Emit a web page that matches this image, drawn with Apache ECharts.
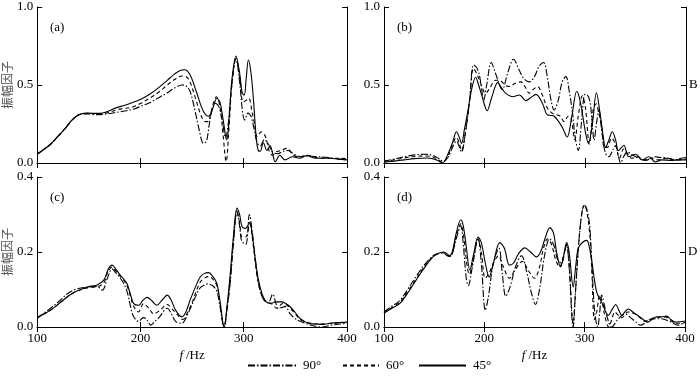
<!DOCTYPE html>
<html>
<head>
<meta charset="utf-8">
<script src="https://cdn.jsdelivr.net/npm/echarts@6/dist/echarts.min.js"></script>
<style>
html, body { margin: 0; padding: 0; background: #fff; }
#main { width: 700px; height: 385px; }
</style>
</head>
<body>
<div id="main"></div>
<script>
// f (Hz), amplitude factor -- panel (a)
var a90 = [[100,0.056],[106,0.085],[113,0.12],[120,0.17],[127,0.22],[133,0.27],[139,0.305],[145,0.315],[150,0.315],[156,0.31],[161,0.31],[168,0.315],[177,0.325],[185,0.333],[193,0.345],[201,0.365],[210,0.39],[218,0.42],[226,0.45],[233,0.48],[240,0.50],[244,0.495],[248,0.46],[253,0.33],[257,0.21],[261,0.126],[264,0.14],[268,0.30],[272.5,0.383],[276,0.36],[279,0.28],[282.5,0.16],[285,0.25],[288.5,0.50],[292.5,0.67],[296,0.52],[299,0.32],[301,0.275],[304,0.32],[307,0.30],[310,0.22],[313,0.13],[316,0.11],[320,0.15],[324,0.12],[328,0.07],[333,0.06],[338,0.075],[343,0.08],[348,0.06],[355,0.04],[362,0.045],[372,0.04],[382,0.035],[392,0.025],[400,0.02]];
var a60 = [[100,0.056],[106,0.085],[113,0.12],[120,0.17],[127,0.22],[133,0.27],[139,0.305],[145,0.316],[150,0.318],[156,0.316],[161,0.316],[168,0.322],[177,0.34],[185,0.35],[193,0.36],[201,0.385],[210,0.42],[218,0.455],[226,0.50],[233,0.535],[240,0.558],[244,0.555],[248,0.52],[254,0.40],[259,0.30],[263,0.265],[266,0.27],[270,0.37],[273.5,0.425],[277,0.36],[280,0.18],[283,0.01],[285.5,0.20],[288.5,0.50],[292.5,0.67],[296,0.55],[299.5,0.39],[302,0.40],[305,0.415],[308,0.33],[310.5,0.25],[313,0.17],[317,0.20],[321,0.17],[325,0.07],[328,0.05],[331,0.07],[336,0.08],[342,0.094],[348,0.05],[354,0.04],[361,0.05],[370,0.035],[382,0.03],[392,0.03],[400,0.028]];
var a45 = [[100,0.056],[106,0.085],[113,0.12],[120,0.17],[127,0.22],[133,0.27],[139,0.305],[145,0.318],[150,0.32],[156,0.318],[161,0.318],[168,0.33],[177,0.355],[185,0.37],[193,0.39],[201,0.41],[210,0.445],[218,0.485],[226,0.53],[233,0.57],[239,0.595],[243,0.598],[248,0.565],[254,0.46],[259,0.36],[263,0.31],[266,0.30],[270,0.35],[274,0.415],[277,0.39],[280,0.28],[283.6,0.147],[286,0.30],[288.5,0.53],[292.5,0.686],[296,0.58],[298.5,0.45],[300.5,0.435],[302.5,0.55],[304.5,0.66],[307,0.58],[309.5,0.40],[312,0.17],[314,0.08],[316,0.075],[319,0.13],[322.5,0.08],[325.5,0.11],[328,0.06],[330.5,0.008],[335,0.05],[340,0.02],[347,0.04],[354,0.03],[361,0.047],[370,0.03],[383,0.03],[392,0.025],[400,0.02]];

// panel (b)
var b90 = [[100,0.012],[110,0.025],[120,0.04],[130,0.052],[140,0.056],[148,0.05],[154,0.03],[159,0.01],[164,0.04],[168,0.10],[172,0.14],[175,0.10],[177,0.07],[181,0.2],[185,0.40],[189,0.628],[193,0.60],[196,0.52],[199,0.40],[202,0.50],[206.5,0.644],[211,0.57],[217.4,0.47],[223,0.58],[228.6,0.665],[234,0.60],[239,0.54],[244.4,0.52],[250,0.56],[254,0.62],[258.6,0.644],[262,0.56],[266,0.40],[269,0.34],[273,0.40],[277,0.52],[280.7,0.554],[284,0.46],[287.3,0.32],[290,0.16],[293,0.08],[296,0.25],[298.8,0.435],[301,0.44],[304.4,0.40],[306.5,0.28],[308.7,0.146],[311,0.25],[313.6,0.34],[316,0.22],[318.6,0.10],[321,0.05],[323.5,0.04],[327,0.08],[330,0.11],[333,0.04],[335,0.0],[338,0.04],[341.7,0.07],[346,0.055],[350,0.04],[355,0.025],[360,0.017],[365,0.03],[369.7,0.04],[374,0.035],[378,0.035],[384,0.028],[389.5,0.02],[395,0.03],[400,0.035]];
var b60 = [[100,0.008],[110,0.02],[120,0.032],[130,0.042],[140,0.045],[148,0.04],[154,0.02],[158,0.005],[163,0.04],[168,0.12],[172,0.165],[175,0.12],[177,0.08],[181,0.2],[185,0.4],[189,0.607],[193,0.56],[196.6,0.50],[201,0.446],[205,0.48],[211,0.53],[215,0.53],[220,0.50],[224.6,0.49],[230,0.51],[236,0.52],[240,0.49],[244.4,0.447],[248,0.47],[252.6,0.49],[257,0.44],[262.5,0.35],[267,0.32],[271,0.31],[275,0.30],[279,0.265],[283,0.30],[286,0.28],[289.5,0.15],[293,0.30],[297,0.43],[300,0.36],[304,0.12],[308,0.35],[311,0.38],[313,0.33],[316,0.25],[319,0.10],[322,0.10],[326,0.16],[330,0.12],[334,0.03],[338,0.09],[342,0.06],[346,0.03],[352,0.04],[358,0.02],[365,0.03],[372,0.02],[380,0.03],[390,0.02],[400,0.025]];
var b45 = [[100,0.005],[110,0.012],[120,0.02],[130,0.028],[142,0.032],[150,0.025],[155,0.01],[158,0.0],[163,0.05],[168,0.13],[172,0.20],[175,0.16],[177,0.125],[180,0.22],[183.5,0.34],[187,0.47],[191,0.55],[194,0.50],[197.5,0.425],[202.5,0.335],[207,0.42],[213,0.515],[217,0.48],[221,0.446],[228,0.425],[234.5,0.436],[241,0.40],[246,0.42],[251,0.44],[257.5,0.38],[262.5,0.307],[266,0.305],[269,0.30],[273,0.27],[277,0.23],[282,0.167],[286.5,0.296],[291.5,0.46],[294,0.42],[297,0.32],[300,0.20],[303,0.125],[307,0.25],[311,0.45],[315,0.30],[318,0.16],[320,0.10],[323,0.14],[326.8,0.20],[330,0.15],[332.8,0.08],[336,0.10],[338.4,0.114],[343,0.04],[350,0.056],[356.5,0.02],[363,0.04],[369.7,0.006],[376,0.02],[386,0.017],[392,0.02],[400,0.02]];

// panel (c)
var c90 = [[100,0.024],[106,0.036],[113,0.05],[121,0.068],[129,0.088],[137,0.1],[145,0.105],[152,0.107],[158,0.108],[163,0.098],[168,0.13],[172.6,0.155],[176,0.145],[180.6,0.13],[184,0.115],[187,0.095],[190,0.06],[193,0.03],[198,0.015],[203,0.025],[206,0.02],[210,0.005],[214,0.015],[218,0.025],[226,0.05],[230,0.035],[234,0.015],[240,0.01],[245,0.03],[250,0.06],[254,0.085],[258,0.105],[262,0.112],[265,0.115],[270,0.11],[274,0.095],[277,0.055],[281,0.0],[284,0.05],[287,0.12],[290,0.22],[293.5,0.31],[296,0.27],[298,0.23],[302,0.22],[305.5,0.30],[308,0.26],[311.3,0.18],[314,0.12],[318,0.08],[322,0.066],[324,0.065],[328,0.0875],[331,0.065],[333,0.05],[337,0.052],[340,0.055],[345,0.035],[350,0.022],[355,0.015],[365,0.005],[375,0.0],[385,0.005],[393,0.008],[400,0.01]];
var c60 = [[100,0.024],[106,0.034],[113,0.045],[121,0.062],[129,0.08],[137,0.094],[145,0.102],[152,0.106],[158,0.107],[164.5,0.118],[169,0.15],[172.6,0.16],[176,0.15],[180.6,0.135],[184,0.124],[187,0.11],[190,0.085],[193.5,0.055],[198,0.04],[203,0.062],[208,0.05],[213,0.035],[219,0.045],[226,0.06],[230,0.05],[235,0.035],[241,0.02],[245,0.035],[250,0.065],[254,0.095],[258,0.12],[262,0.13],[266,0.135],[270,0.128],[274,0.11],[277,0.065],[281,0.0],[284,0.055],[287,0.13],[290,0.23],[293.5,0.305],[296,0.28],[298.4,0.24],[302,0.24],[306,0.275],[308,0.245],[311.3,0.17],[314,0.12],[318,0.08],[321,0.068],[324,0.065],[328,0.06],[332,0.05],[338,0.063],[342,0.058],[345,0.05],[350,0.035],[355,0.02],[365,0.01],[375,0.008],[385,0.01],[400,0.012]];
var c45 = [[100,0.024],[106,0.034],[113,0.045],[121,0.062],[129,0.08],[137,0.094],[145,0.103],[152,0.109],[158,0.112],[164.5,0.125],[169,0.155],[172.6,0.165],[176,0.155],[180.6,0.138],[184,0.127],[187,0.116],[190,0.09],[193.5,0.0625],[198.4,0.058],[202,0.07],[206.5,0.079],[211,0.07],[216,0.058],[221,0.072],[226,0.085],[230,0.07],[234,0.045],[240,0.027],[244,0.04],[248,0.071],[253,0.105],[258,0.134],[262,0.143],[266,0.145],[270,0.135],[274,0.116],[277,0.07],[281,0.0],[284,0.06],[287,0.143],[290,0.24],[293.5,0.317],[296,0.30],[298.4,0.268],[301.6,0.263],[305.8,0.279],[308,0.25],[311.3,0.179],[314,0.13],[317.7,0.089],[321,0.07],[324,0.064],[327,0.063],[330.6,0.067],[337,0.067],[341,0.062],[345,0.054],[350,0.038],[354.8,0.022],[360,0.013],[364.5,0.009],[370,0.008],[377.4,0.007],[387,0.011],[393,0.012],[400,0.013]];

// panel (d)
var d90 = [[100,0.04],[108,0.056],[115.6,0.07],[124,0.102],[132,0.135],[140,0.165],[149,0.19],[154,0.196],[159,0.198],[163,0.19],[165.5,0.188],[168,0.195],[172,0.235],[176.5,0.27],[179,0.22],[182,0.13],[184,0.11],[188,0.16],[193.8,0.235],[197,0.17],[201,0.045],[204,0.08],[209,0.17],[214.5,0.21],[218,0.14],[221.4,0.082],[226,0.11],[231,0.16],[237,0.19],[242,0.15],[247,0.09],[251,0.06],[255,0.1],[260,0.19],[265,0.235],[269,0.22],[273,0.18],[277,0.17],[280,0.2],[282,0.22],[284.5,0.16],[288.5,0.0],[291,0.1],[294,0.22],[297,0.3],[299.6,0.325],[302,0.315],[305,0.27],[307.5,0.15],[310,0.04],[313,0.0],[315,0.04],[317,0.085],[319.5,0.06],[322,0.03],[327,0.0],[333,0.02],[340,0.035],[348,0.02],[356,0.005],[365,0.02],[375,0.022],[385,0.015],[393,0.005],[400,0.012]];
var d60 = [[100,0.0375],[108,0.052],[115.6,0.066],[124,0.096],[132,0.128],[140,0.16],[149,0.188],[154,0.195],[159,0.198],[163,0.192],[165.5,0.188],[168,0.195],[172,0.24],[176.5,0.275],[179,0.25],[182,0.18],[185,0.14],[189,0.18],[193.8,0.235],[197,0.2],[201,0.13],[205,0.145],[209,0.17],[214,0.19],[219,0.16],[225,0.13],[230,0.15],[238,0.175],[244,0.15],[250,0.13],[255,0.16],[259,0.21],[263,0.235],[267,0.22],[271,0.18],[275,0.16],[279,0.19],[282,0.22],[284.5,0.17],[288.5,0.01],[291,0.1],[294,0.22],[297,0.3],[299.6,0.325],[302,0.31],[305,0.25],[307,0.16],[309.7,0.02],[312,0.04],[315,0.085],[318,0.06],[320,0.03],[324,0.0],[327,0.02],[330,0.04],[334,0.03],[337,0.025],[343,0.04],[350,0.035],[355,0.025],[360,0.015],[365,0.02],[370,0.025],[380,0.027],[385,0.02],[390,0.01],[395,0.01],[400,0.012]];
var d45 = [[100,0.0375],[108,0.05],[115.6,0.0625],[124,0.092],[132,0.125],[140,0.157],[149,0.1875],[154,0.196],[159,0.20],[163,0.195],[165.5,0.19],[168,0.2],[172,0.25],[176.5,0.286],[179,0.27],[182,0.214],[185.5,0.152],[189,0.19],[193.8,0.24],[197,0.225],[201,0.17],[204.8,0.133],[209,0.17],[215.4,0.225],[220,0.21],[225,0.165],[229,0.17],[234,0.195],[240.4,0.211],[246,0.2],[252,0.187],[256,0.2],[261,0.24],[265.3,0.265],[269,0.25],[272,0.2],[276,0.16],[279,0.19],[282,0.225],[284.5,0.2],[288.6,0.107],[291,0.16],[293.6,0.21],[298,0.226],[302,0.231],[304.5,0.215],[307,0.178],[309.5,0.13],[312,0.093],[315,0.075],[318.5,0.058],[321,0.04],[323.5,0.031],[327,0.045],[331,0.06],[334,0.045],[337,0.031],[340,0.04],[343.5,0.048],[348,0.04],[355,0.027],[363,0.013],[367,0.02],[371.7,0.027],[376,0.027],[381.7,0.029],[386,0.02],[390,0.013],[395,0.014],[400,0.016]];

var seriesNames = ['90°', '60°', '45°'];
var dashTypes = [[7, 2, 1.5, 2], [4, 3], 'solid'];

var FONT = '"Liberation Serif", "Times New Roman", serif';

var panels = [
	{grid: {left: 37, top: 7, width: 310, height: 156}, yMax: 1, yStep: 0.5, xLabels: false, yName: '振幅因子', rName: '', tag: '(a)', data: [a90, a60, a45]},
	{grid: {left: 384, top: 7, width: 302, height: 156}, yMax: 1, yStep: 0.5, xLabels: false, yName: '', rName: 'B', tag: '(b)', data: [b90, b60, b45]},
	{grid: {left: 37, top: 177, width: 310, height: 150}, yMax: 0.4, yStep: 0.2, xLabels: true, yName: '振幅因子', rName: '', tag: '(c)', data: [c90, c60, c45]},
	{grid: {left: 384, top: 177, width: 301, height: 150}, yMax: 0.4, yStep: 0.2, xLabels: true, yName: '', rName: 'D', tag: '(d)', data: [d90, d60, d45]}
];

var chart = echarts.init(document.getElementById('main'), null, {renderer: 'canvas'});

var grids = [], xAxes = [], yAxes = [], series = [], titles = [];
var lineAx = {lineStyle: {color: '#000', width: 1}};
var tickIn = {show: true, inside: true, length: 5, lineStyle: {color: '#000', width: 1}};

panels.forEach(function(p, i) {
	grids.push({left: p.grid.left, top: p.grid.top, width: p.grid.width, height: p.grid.height, containLabel: false});

	// bottom + top x axes
	xAxes.push({
		type: 'value', gridIndex: i, position: 'bottom', min: 100, max: 400, interval: 100,
		axisLine: lineAx, axisTick: tickIn, splitLine: {show: false},
		axisLabel: {show: p.xLabels, color: '#000', fontFamily: FONT, fontSize: 13, margin: 5},
		name: p.xLabels ? '{i|f}/Hz' : '', nameLocation: 'middle', nameGap: 22,
		nameTextStyle: {color: '#000', fontFamily: FONT, fontSize: 13, rich: {i: {fontStyle: 'italic', fontFamily: FONT, fontSize: 13, padding: [0, 3, 0, 0]}}}
	});
	xAxes.push({
		type: 'value', gridIndex: i, position: 'top', min: 100, max: 400, interval: 100,
		axisLine: lineAx, axisTick: tickIn, splitLine: {show: false}, axisLabel: {show: false}
	});

	// left + right y axes
	yAxes.push({
		type: 'value', gridIndex: i, position: 'left', min: 0, max: p.yMax, interval: p.yStep,
		axisLine: lineAx, axisTick: tickIn, splitLine: {show: false},
		axisLabel: {color: '#000', fontFamily: FONT, fontSize: 13, margin: 4, formatter: function(v) { return v.toFixed(1); }},
		name: p.yName, nameLocation: 'middle', nameGap: 20,
		nameTextStyle: {color: '#555', fontFamily: 'Noto Sans CJK SC', fontSize: 12}
	});
	yAxes.push({
		type: 'value', gridIndex: i, position: 'right', min: 0, max: p.yMax, interval: p.yStep,
		axisLine: lineAx, axisTick: tickIn, splitLine: {show: false}, axisLabel: {show: false},
		name: p.rName, nameLocation: 'middle', nameRotate: 0, nameGap: 3,
		nameTextStyle: {color: '#000', fontFamily: FONT, fontSize: 13, align: 'left'}
	});

	p.data.forEach(function(d, k) {
		series.push({
			name: seriesNames[k], type: 'line', xAxisIndex: i * 2, yAxisIndex: i * 2,
			data: d, smooth: 0.35, symbol: 'none', animation: false,
			itemStyle: {color: '#000'},
			lineStyle: {color: '#000', width: 1.1, type: dashTypes[k]}
		});
	});

	titles.push({
		text: p.tag, left: p.grid.left + 8, top: p.grid.top + 9,
		textStyle: {color: '#000', fontFamily: FONT, fontSize: 13, fontWeight: 'normal'}
	});
});

// one legend per entry so each key sits where it does in the figure
var legendLeft = [242, 337, 413];
var legendWidth = [48, 36, 47];
var legends = seriesNames.map(function(n, k) {
	return {
		data: [n], left: legendLeft[k], top: 354, itemWidth: legendWidth[k], itemHeight: 10,
		itemStyle: {opacity: 0}, selectedMode: false,
		textStyle: {color: '#000', fontFamily: FONT, fontSize: 13, padding: [0, 0, 0, 2]}
	};
});

var option = {
	backgroundColor: '#fff',
	animation: false,
	title: titles,
	grid: grids,
	xAxis: xAxes,
	yAxis: yAxes,
	legend: legends,
	series: series
};

chart.setOption(option);
</script>
</body>
</html>
